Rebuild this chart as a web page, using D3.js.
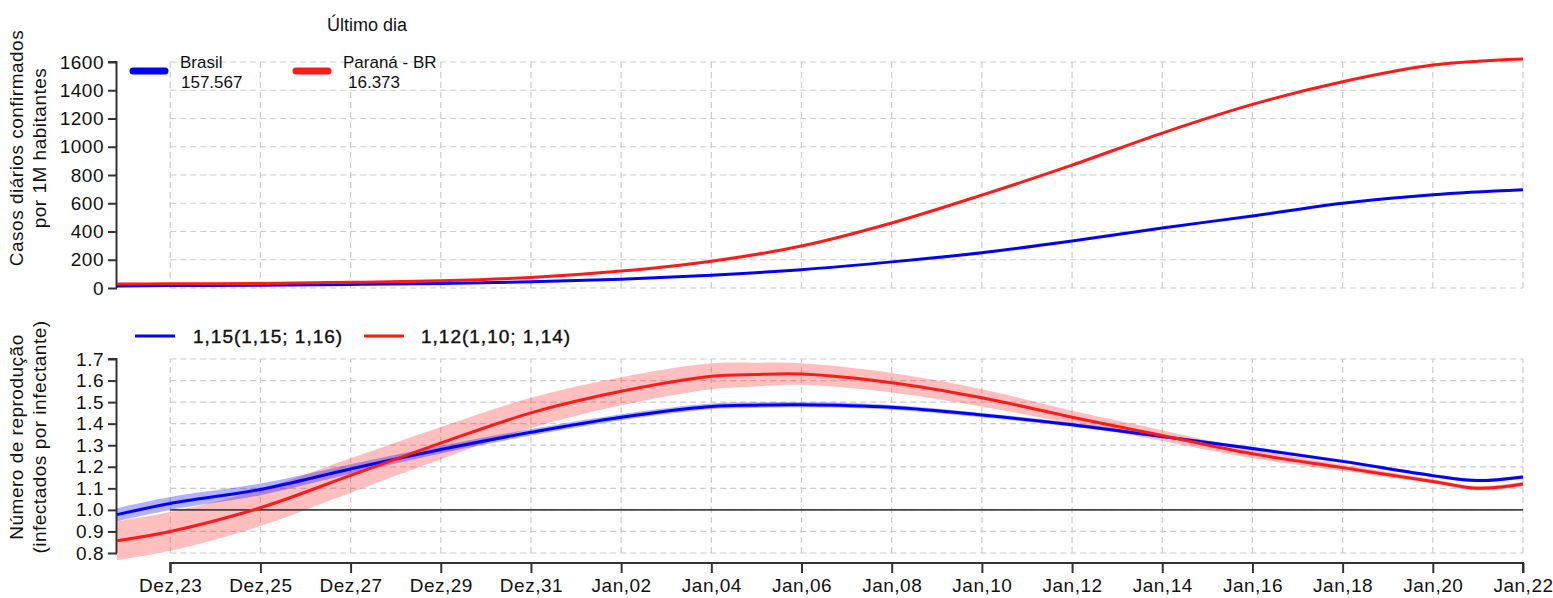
<!DOCTYPE html>
<html>
<head>
<meta charset="utf-8">
<script src="https://cdn.jsdelivr.net/npm/d3@7"></script>
<style>
  body { margin: 0; background: #fff; }
  svg { font-family: "Liberation Sans", Arial, sans-serif; }
</style>
</head>
<body>
<div class="canva"></div>
<script>
// days counted from Dez,23 (= 0)
const tickDays = [0, 2, 4, 6, 8, 10, 12, 14, 16, 18, 20, 22, 24, 26, 28, 30];
const tickLabels = ["Dez,23", "Dez,25", "Dez,27", "Dez,29", "Dez,31", "Jan,02", "Jan,04", "Jan,06",
                    "Jan,08", "Jan,10", "Jan,12", "Jan,14", "Jan,16", "Jan,18", "Jan,20", "Jan,22"];

// top panel: daily cases per 1M
const caseDays = [-1.18, 0, 2, 4, 6, 8, 10, 12, 14, 16, 18, 20, 22, 24, 26, 28, 30];
const brasilCases = [15, 17, 20, 25, 32, 44, 62, 90, 130, 185, 250, 333, 425, 510, 600, 660, 695];
const paranaCases = [28, 30, 32, 40, 52, 75, 120, 190, 297, 460, 658, 870, 1097, 1300, 1460, 1578, 1621];

// bottom panel: reproduction number
const rtDays = [-1.18, 0, 2, 4, 6, 8, 10, 12, 13, 14, 16, 18, 20, 22, 24, 26, 28, 29, 30];
const brasilRt = [0.978, 1.03, 1.095, 1.19, 1.28, 1.36, 1.43, 1.48, 1.486, 1.488, 1.476, 1.44, 1.395, 1.34, 1.285, 1.225, 1.159, 1.136, 1.153];
const brasilLo = [0.948, 1.0, 1.068, 1.168, 1.262, 1.345, 1.416, 1.467, 1.473, 1.476, 1.465, 1.43, 1.386, 1.332, 1.277, 1.217, 1.151, 1.128, 1.145];
const brasilHi = [1.008, 1.06, 1.122, 1.212, 1.298, 1.375, 1.444, 1.493, 1.499, 1.50, 1.487, 1.45, 1.404, 1.348, 1.293, 1.233, 1.167, 1.144, 1.161];
const paranaRt = [0.857, 0.9, 1.01, 1.16, 1.31, 1.45, 1.55, 1.62, 1.628, 1.63, 1.59, 1.52, 1.43, 1.345, 1.26, 1.196, 1.132, 1.10, 1.12];
const paranaLo = [0.767, 0.81, 0.925, 1.08, 1.235, 1.38, 1.485, 1.56, 1.573, 1.58, 1.545, 1.48, 1.40, 1.32, 1.24, 1.181, 1.122, 1.09, 1.11];
const paranaHi = [0.947, 0.99, 1.095, 1.24, 1.385, 1.52, 1.615, 1.68, 1.683, 1.68, 1.635, 1.56, 1.46, 1.37, 1.28, 1.211, 1.142, 1.11, 1.13];

const yTicksTop = [0, 200, 400, 600, 800, 1000, 1200, 1400, 1600];
const yTicksBot = [0.8, 0.9, 1.0, 1.1, 1.2, 1.3, 1.4, 1.5, 1.6, 1.7];

const BLUE = "#0000ff", RED = "#ff1a1a", GRID = "#cccccc", AXIS = "#333";

const svg = d3.select(".canva").append("svg")
    .attr("width", 1553)
    .attr("height", 598);

const x = d3.scaleLinear().domain([-1.18, 30]).range([117, 1523]);
const yTop = d3.scaleLinear().domain([0, 1600]).range([288, 62]);
const yBot = d3.scaleLinear().domain([0.8, 1.7]).range([553, 359]);

function label(sel, size, spacing) {
    return sel.attr("font-size", size).attr("letter-spacing", spacing).attr("fill", "#111");
}

function grid(yScale, yTicks) {
    const g = svg.append("g").attr("stroke", GRID).attr("stroke-dasharray", "6,4").attr("stroke-width", 1.2);
    g.selectAll(".v").data(tickDays).enter().append("line")
        .attr("x1", d => x(d)).attr("x2", d => x(d))
        .attr("y1", yScale(yTicks[0])).attr("y2", yScale(yTicks[yTicks.length - 1]));
    g.selectAll(".h").data(yTicks).enter().append("line")
        .attr("x1", x(0)).attr("x2", x(30))
        .attr("y1", d => yScale(d)).attr("y2", d => yScale(d));
}

function yAxis(yScale, yTicks, fmt) {
    const g = svg.append("g").attr("transform", "translate(117,0)")
        .call(d3.axisLeft(yScale).tickValues(yTicks).tickFormat(fmt).tickSize(9).tickPadding(4));
    g.select(".domain").attr("d", `M-0.5,${yScale(yTicks[0])}V${yScale(yTicks[yTicks.length - 1])}H-9`)
        .attr("stroke", AXIS).attr("stroke-width", 2);
    g.selectAll(".tick line").attr("stroke", AXIS).attr("stroke-width", 2);
    label(g.selectAll(".tick text"), 19, 0.5).attr("font-family", "Liberation Sans, Arial, sans-serif");
}

// ---------- top panel
grid(yTop, yTicksTop);
yAxis(yTop, yTicksTop, d3.format("d"));

const lineTop = d3.line().x((d, i) => x(caseDays[i])).y(d => yTop(d)).curve(d3.curveMonotoneX);
svg.append("path").datum(brasilCases).attr("d", lineTop)
    .attr("fill", "none").attr("stroke", BLUE).attr("stroke-width", 3);
svg.append("path").datum(paranaCases).attr("d", lineTop)
    .attr("fill", "none").attr("stroke", RED).attr("stroke-width", 3);

label(svg.append("text"), 18, 0).attr("x", 367).attr("y", 31).attr("text-anchor", "middle").text("Último dia");

const topLegend = [
    {name: "Brasil", val: "157.567", color: BLUE, lx: 133, tx: 180, vx: 181},
    {name: "Paraná - BR", val: "16.373", color: RED, lx: 296, tx: 343, vx: 348}
];
topLegend.forEach(d => {
    svg.append("line").attr("x1", d.lx).attr("x2", d.lx + 32).attr("y1", 71).attr("y2", 71)
        .attr("stroke", d.color).attr("stroke-width", 7).attr("stroke-linecap", "round");
    label(svg.append("text"), 17, 0).attr("x", d.tx).attr("y", 68).text(d.name);
    label(svg.append("text"), 17, 0).attr("x", d.vx).attr("y", 88).text(d.val);
});

label(svg.append("text"), 19, 0.5).attr("transform", "translate(23,148) rotate(-90)").attr("text-anchor", "middle")
    .text("Casos diários confirmados");
label(svg.append("text"), 19, 0.5).attr("transform", "translate(46,148) rotate(-90)").attr("text-anchor", "middle")
    .text("por 1M habitantes");

// ---------- bottom panel
grid(yBot, yTicksBot);
yAxis(yBot, yTicksBot, d3.format(".1f"));

const curveBot = d3.curveCatmullRom.alpha(0.5);
const area = (lo, hi) => d3.area().x((d, i) => x(rtDays[i])).y0((d, i) => yBot(lo[i])).y1((d, i) => yBot(hi[i]))
    .curve(curveBot)(rtDays);
const lineBot = d3.line().x((d, i) => x(rtDays[i])).y(d => yBot(d)).curve(curveBot);

svg.append("path").attr("d", area(paranaLo, paranaHi)).attr("fill", RED).attr("fill-opacity", 0.28);
svg.append("path").attr("d", area(brasilLo, brasilHi)).attr("fill", BLUE).attr("fill-opacity", 0.3);

svg.append("line").attr("x1", x(0)).attr("x2", x(30)).attr("y1", yBot(1)).attr("y2", yBot(1))
    .attr("stroke", "#444").attr("stroke-width", 1.6);

svg.append("path").datum(brasilRt).attr("d", lineBot)
    .attr("fill", "none").attr("stroke", BLUE).attr("stroke-width", 3);
svg.append("path").datum(paranaRt).attr("d", lineBot)
    .attr("fill", "none").attr("stroke", RED).attr("stroke-width", 3);

const botLegend = [
    {label: "1,15(1,15; 1,16)", color: BLUE, lx: 135, tx: 193},
    {label: "1,12(1,10; 1,14)", color: RED, lx: 364, tx: 421}
];
botLegend.forEach(d => {
    svg.append("line").attr("x1", d.lx).attr("x2", d.lx + 40).attr("y1", 336).attr("y2", 336)
        .attr("stroke", d.color).attr("stroke-width", 3);
    label(svg.append("text"), 19, 1).attr("x", d.tx).attr("y", 343).attr("stroke", "#111").attr("stroke-width", 0.4)
        .text(d.label);
});

// x axis
const xa = svg.append("g").attr("transform", "translate(0,563)")
    .call(d3.axisBottom(x).tickValues(tickDays).tickFormat((d, i) => tickLabels[i]).tickSize(10).tickPadding(6));
xa.select(".domain").attr("d", `M${x(0)},10V0H${x(30)}V10`).attr("stroke", AXIS).attr("stroke-width", 2);
xa.selectAll(".tick line").attr("stroke", AXIS).attr("stroke-width", 2);
label(xa.selectAll(".tick text"), 19, 0.5).attr("font-family", "Liberation Sans, Arial, sans-serif");

label(svg.append("text"), 19, 0.5).attr("transform", "translate(23,437) rotate(-90)").attr("text-anchor", "middle")
    .text("Número de reprodução");
label(svg.append("text"), 19, 0.5).attr("transform", "translate(46,437) rotate(-90)").attr("text-anchor", "middle")
    .text("(infectados por infectante)");
</script>
</body>
</html>
